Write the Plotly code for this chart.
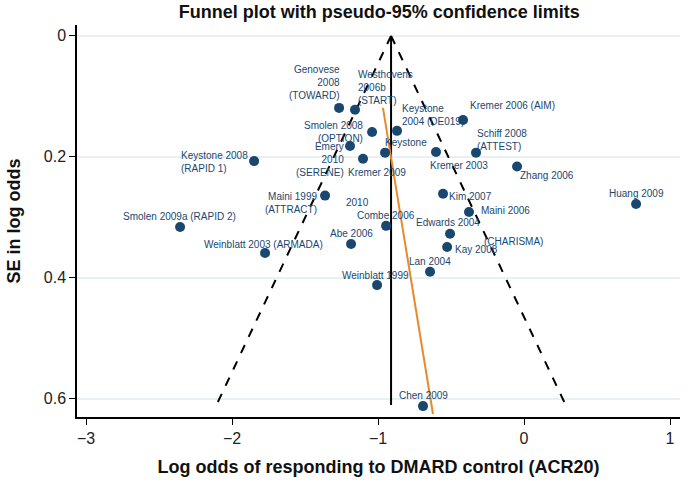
import plotly.graph_objects as go

# ---- data ----
studies = [
    "Genovese 2008 (TOWARD)", "Westhovens 2006b (START)", "Smolen 2008 (OPTION)",
    "Emery 2010 (SERENE)", "Keystone 2008 (RAPID 1)", "Kremer 2009",
    "Kremer 2006 (AIM)", "Keystone 2004 (DE019)", "Keystone", "Schiff 2008 (ATTEST)",
    "Kremer 2003", "Zhang 2006", "Kim 2007", "Maini 2006", "Huang 2009",
    "Edwards 2004", "Kay 2008", "Maini 1999 (ATTRACT)", "Combe 2006", "Abe 2006",
    "Weinblatt 2003 (ARMADA)", "Lan 2004", "Weinblatt 1999", "Chen 2009",
    "Smolen 2009a (RAPID 2)",
]
log_odds = [
    -1.267, -1.158, -1.041, -1.192, -1.849, -1.103,
    -0.418, -0.870, -0.952, -0.329,
    -0.603, -0.048, -0.555, -0.377, 0.767,
    -0.507, -0.527, -1.363, -0.945, -1.185,
    -1.774, -0.644, -1.007, -0.692,
    -2.356,
]
se = [
    0.119, 0.122, 0.159, 0.182, 0.207, 0.203,
    0.139, 0.157, 0.193, 0.193,
    0.192, 0.216, 0.261, 0.291, 0.278,
    0.327, 0.349, 0.264, 0.314, 0.344,
    0.359, 0.390, 0.412, 0.612,
    0.316,
]
pooled = -0.911
funnel_se = [0.0, 0.61]
z95 = 1.96
reg_intercept = -1.047
reg_slope = 0.677
reg_se = [0.119, 0.625]

x_ticks = [-3, -2, -1, 0, 1]
y_ticks = [0, 0.2, 0.4, 0.6]
y_tick_labels = ["0", "0.2", "0.4", "0.6"]

# label text shown for each study (display form) and extra label fragments
label_text = {
    0: "Genovese<br>2008<br>(TOWARD)",
    1: "Westhovens<br>2006b<br>(START)",
    2: "Smolen 2008<br>(OPTION)",
    3: "Emery<br>2010<br>(SERENE)",
    4: "Keystone 2008<br>(RAPID 1)",
    5: "Kremer 2009",
    6: "Kremer 2006 (AIM)",
    7: "Keystone<br>2004 (DE019)",
    8: "Keystone",
    9: "Schiff 2008<br>(ATTEST)",
    10: "Kremer 2003",
    11: "Zhang 2006",
    12: "Kim 2007",
    13: "Maini 2006",
    14: "Huang 2009",
    15: "Edwards 2004",
    16: "Kay 2008",
    17: "Maini 1999<br>(ATTRACT)",
    18: "Combe 2006",
    19: "Abe 2006",
    20: "Weinblatt 2003 (ARMADA)",
    21: "Lan 2004",
    22: "Weinblatt 1999",
    23: "Chen 2009",
    24: "Smolen 2009a (RAPID 2)",
}
extra_labels = [(13, "(CHARISMA)"), (17, "2010")]

# ---- label placement (style): xanchor, yanchor, xshift, yshift, align ----
label_style = {
    0: ("right", "bottom", 3, 5, "right"),
    1: ("left", "bottom", 1, 2, "left"),
    2: ("right", "middle", -7, 0, "right"),
    3: ("right", "middle", -4, -14, "right"),
    4: ("right", "middle", -4, -1, "left"),
    5: ("left", "middle", -17, -14, "left"),
    6: ("left", "middle", 5, 14, "left"),
    7: ("left", "bottom", 3, 2, "left"),
    8: ("left", "middle", -2, 10, "left"),
    9: ("left", "bottom", -1, -1, "left"),
    10: ("left", "middle", -8, -13, "left"),
    11: ("left", "middle", 1, -9, "left"),
    12: ("left", "middle", 4, -3, "left"),
    13: ("left", "middle", 10, 1, "left"),
    14: ("center", "middle", 0, 11, "center"),
    15: ("center", "middle", -2, 11, "center"),
    16: ("left", "middle", 6, -2, "left"),
    17: ("right", "middle", -6, -7, "right"),
    18: ("center", "middle", 0, 10, "center"),
    19: ("center", "middle", 0, 10, "center"),
    20: ("center", "middle", -2, 9, "center"),
    21: ("center", "middle", 0, 10, "center"),
    22: ("center", "middle", -2, 10, "center"),
    23: ("center", "middle", 0, 11, "center"),
    24: ("center", "middle", -1, 11, "center"),
}
extra_style = [
    ("left", "middle", 13, -30, "left"),
    ("center", "middle", 32, -7, "center"),
]

NAVY = "#1a476f"
FONT = "Liberation Sans, Arial, sans-serif"

fig = go.Figure()

# funnel limits
for sign in (-1, 1):
    fig.add_trace(go.Scatter(
        x=[pooled + sign * z95 * s for s in funnel_se], y=funnel_se,
        mode="lines", line=dict(color="black", width=2, dash="dash"),
        showlegend=False, hoverinfo="skip"))
# pooled estimate
fig.add_trace(go.Scatter(
    x=[pooled, pooled], y=funnel_se, mode="lines",
    line=dict(color="black", width=2), showlegend=False, hoverinfo="skip"))
# regression line
fig.add_trace(go.Scatter(
    x=[reg_intercept + reg_slope * s for s in reg_se], y=reg_se, mode="lines",
    line=dict(color="#e8892c", width=2), showlegend=False, hoverinfo="skip"))
# studies
fig.add_trace(go.Scatter(
    x=log_odds, y=se, mode="markers", text=studies,
    marker=dict(color=NAVY, size=10, line=dict(width=0)),
    showlegend=False))

annotations = []
for i, txt in label_text.items():
    xa, ya, dx, dy, al = label_style[i]
    annotations.append(dict(
        x=log_odds[i], y=se[i], xref="x", yref="y", text=txt, showarrow=False,
        xanchor=xa, yanchor=ya, xshift=dx, yshift=dy, align=al,
        font=dict(family=FONT, size=10, color=NAVY)))
for (i, txt), (xa, ya, dx, dy, al) in zip(extra_labels, extra_style):
    annotations.append(dict(
        x=log_odds[i], y=se[i], xref="x", yref="y", text=txt, showarrow=False,
        xanchor=xa, yanchor=ya, xshift=dx, yshift=dy, align=al,
        font=dict(family=FONT, size=10, color=NAVY)))

fig.update_layout(
    width=687, height=480,
    margin=dict(l=77, r=7, t=25, b=63),
    paper_bgcolor="white", plot_bgcolor="white",
    font=dict(family=FONT, color="#222"),
    title=dict(text="<b>Funnel plot with pseudo-95% confidence limits</b>",
               x=0.552, xanchor="center", y=1 - 12 / 480, yanchor="middle",
               yref="container", font=dict(size=18, color="#111")),
    annotations=annotations,
)
fig.update_xaxes(
    range=[-3.062, 1.068], tickvals=x_ticks, ticks="outside", ticklen=6,
    tickcolor="black", showline=True, linecolor="black", linewidth=1.5,
    showgrid=False, zeroline=False,
    tickfont=dict(size=16, color="#222"),
    title=dict(text="<b>Log odds of responding to DMARD control (ACR20)</b>",
               font=dict(size=18, color="#111"), standoff=14),
)
fig.update_yaxes(
    range=[0.63, -0.018], tickvals=y_ticks, ticktext=y_tick_labels,
    ticks="outside", ticklen=6, tickcolor="black", showline=True,
    linecolor="black", linewidth=1.5, showgrid=True, gridcolor="#e8f0f2",
    gridwidth=1.5, zeroline=False,
    tickfont=dict(size=16, color="#222"),
    title=dict(text="<b>SE in log odds</b>", font=dict(size=18, color="#111"),
               standoff=18),
)

fig.write_html("out.html",
               config={"displayModeBar": False},
               post_script="document.body.style.margin='0';document.body.style.overflow='hidden';")
